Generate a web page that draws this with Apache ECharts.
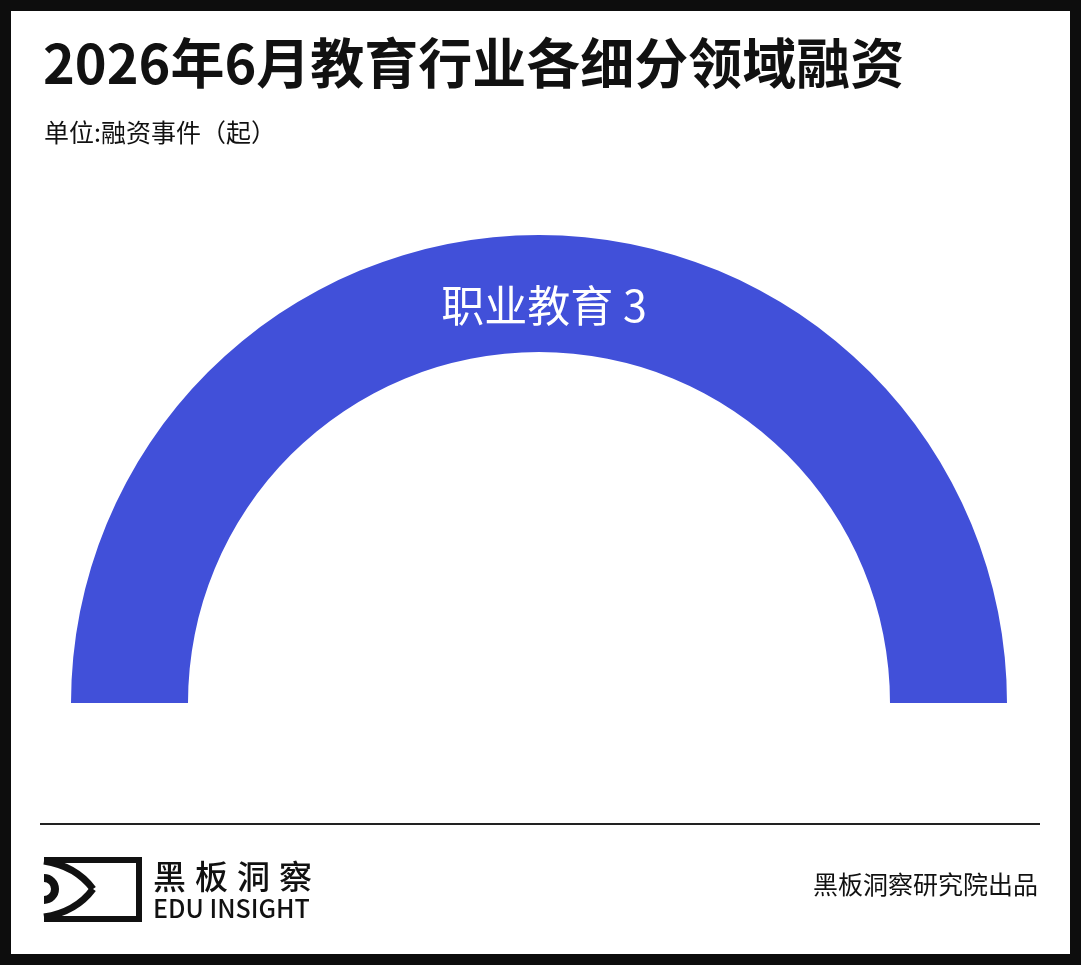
<!DOCTYPE html>
<html>
<head>
<meta charset="utf-8">
<script src="https://cdn.jsdelivr.net/npm/echarts@6/dist/echarts.min.js"></script>
<style>
  html, body { margin: 0; padding: 0; background: #fff; }
  #chart { width: 1081px; height: 965px; }
</style>
</head>
<body>
<div id="chart"></div>
<script>
// 数据
const categories = ['职业教育'];
const values = [3];

const titleText = '2026年6月教育行业各细分领域融资';
const unitText = '单位:融资事件（起）';
const sourceText = '黑板洞察研究院出品';

const FONT = '"Noto Sans CJK SC", "Noto Sans", sans-serif';
const BLUE = '#4150D9';
const INK = '#111111';

const chart = echarts.init(document.getElementById('chart'));

const option = {
  backgroundColor: '#fff',
  animation: false,
  title: [
    {
      text: titleText,
      left: 38,
      top: 31,
      textStyle: { fontFamily: FONT, fontSize: 54, fontWeight: 'bold', color: INK }
    },
    {
      text: unitText,
      left: 39,
      top: 115,
      textStyle: { fontFamily: FONT, fontSize: 25, fontWeight: 'normal', color: INK }
    }
  ],
  series: [
    {
      type: 'pie',
      center: [539, 703],
      radius: [351, 468],
      startAngle: 180,
      endAngle: 0,
      silent: true,
      itemStyle: { color: BLUE },
      label: {
        show: true,
        position: 'inside',
        formatter: '{b} {c}',
        color: '#fff',
        fontFamily: FONT,
        fontSize: 43
      },
      labelLayout: { dx: 5, dy: 15 },
      labelLine: { show: false },
      data: categories.map((name, i) => ({ name, value: values[i] }))
    }
  ],
  graphic: [
    // 外框
    {
      type: 'rect',
      shape: { x: 5.5, y: 5.5, width: 1070, height: 954 },
      style: { fill: null, stroke: '#0d0d0d', lineWidth: 11 },
      silent: true
    },
    // 分隔线
    {
      type: 'line',
      shape: { x1: 40, y1: 824, x2: 1040, y2: 824 },
      style: { stroke: '#222', lineWidth: 2 }
    },
    // logo 图形
    {
      type: 'polyline',
      shape: { points: [[44, 860], [139, 860], [139, 919], [44, 919]] },
      style: { fill: null, stroke: INK, lineWidth: 6 }
    },
    {
      type: 'bezierCurve',
      shape: { x1: 44, y1: 861, cpx1: 76, cpy1: 866, x2: 93, y2: 889 },
      style: { fill: null, stroke: INK, lineWidth: 7 }
    },
    {
      type: 'bezierCurve',
      shape: { x1: 93, y1: 889, cpx1: 76, cpy1: 912, x2: 44, y2: 917 },
      style: { fill: null, stroke: INK, lineWidth: 7 }
    },
    {
      type: 'arc',
      shape: { cx: 44, cy: 889, r: 11, startAngle: -Math.PI / 2, endAngle: Math.PI / 2 },
      style: { fill: null, stroke: INK, lineWidth: 8 }
    },
    { type: 'text', x: 153, y: 860, style: { text: '黑', font: '500 33px ' + FONT, fill: INK } },
    { type: 'text', x: 195, y: 860, style: { text: '板', font: '500 33px ' + FONT, fill: INK } },
    { type: 'text', x: 237, y: 860, style: { text: '洞', font: '500 33px ' + FONT, fill: INK } },
    { type: 'text', x: 279, y: 860, style: { text: '察', font: '500 33px ' + FONT, fill: INK } },
    {
      type: 'text', x: 153, y: 896,
      style: { text: 'EDU INSIGHT', font: '500 25px ' + FONT, fill: INK }
    },
    {
      type: 'text', right: 43, top: 872,
      style: { text: sourceText, font: '25px ' + FONT, fill: INK }
    }
  ]
};

chart.setOption(option);
window.addEventListener('resize', () => chart.resize());
</script>
</body>
</html>
